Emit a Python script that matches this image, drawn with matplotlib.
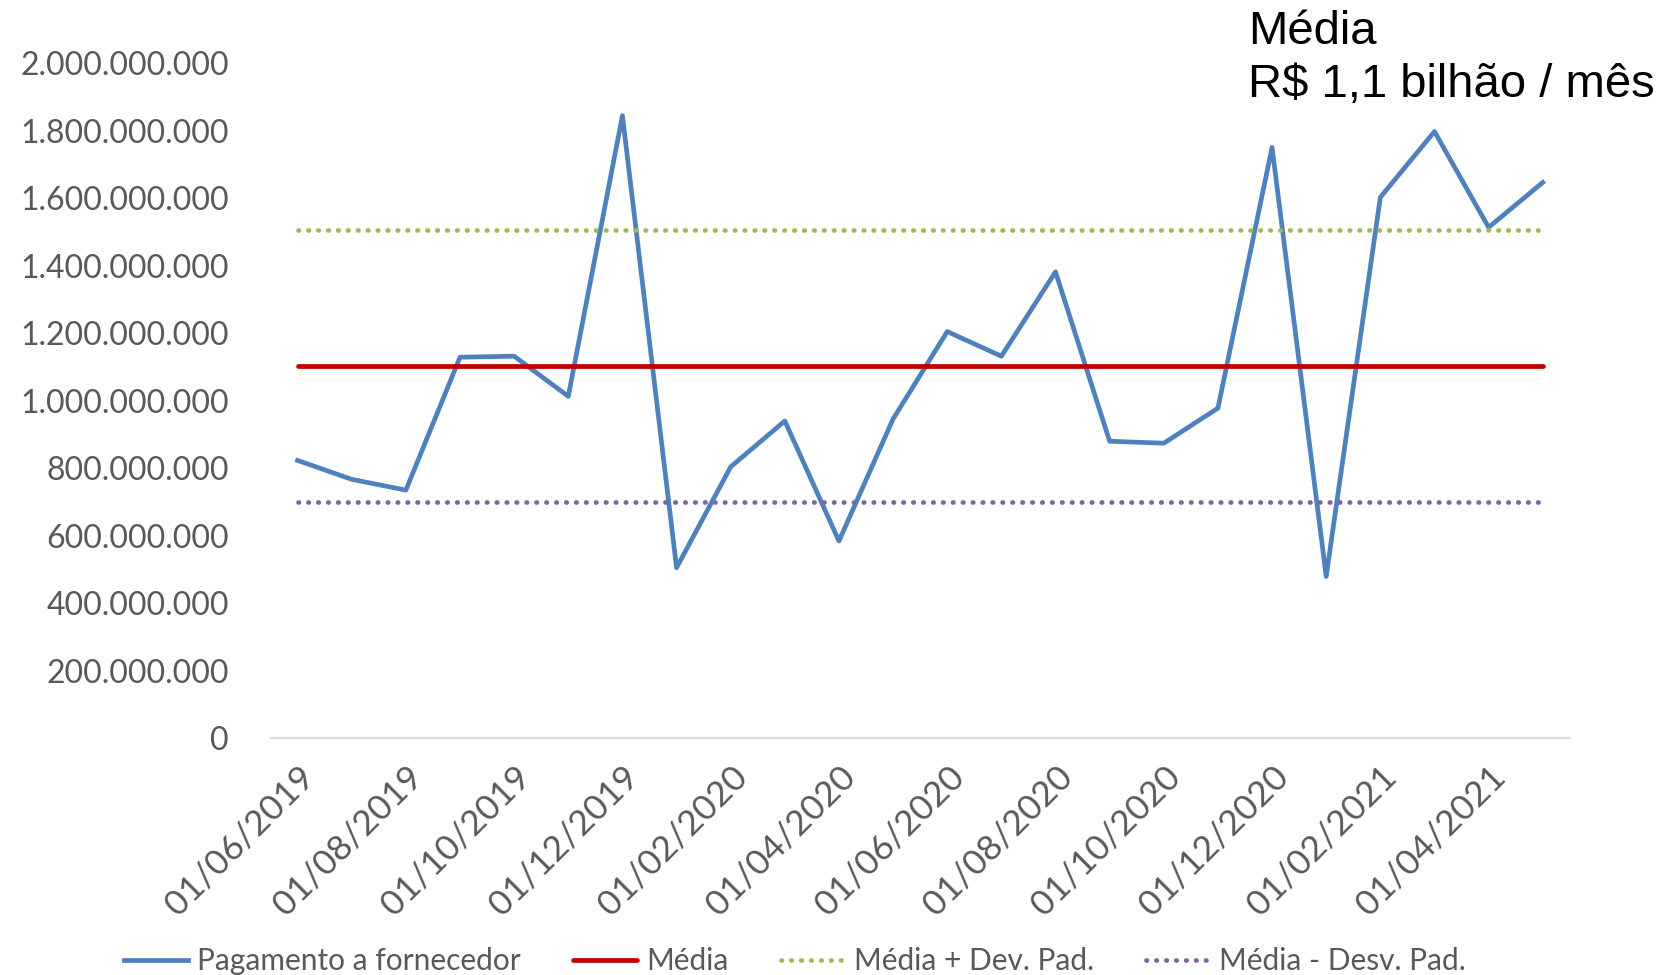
import numpy as np
import matplotlib.pyplot as plt

plt.rcParams['font.family'] = ['Lato', 'DejaVu Sans']

# meses (mensal, 06/2019 a 05/2021)
meses = ["01/06/2019", "01/07/2019", "01/08/2019", "01/09/2019", "01/10/2019", "01/11/2019",
         "01/12/2019", "01/01/2020", "01/02/2020", "01/03/2020", "01/04/2020", "01/05/2020",
         "01/06/2020", "01/07/2020", "01/08/2020", "01/09/2020", "01/10/2020", "01/11/2020",
         "01/12/2020", "01/01/2021", "01/02/2021", "01/03/2021", "01/04/2021", "01/05/2021"]

# pagamento a fornecedor (R$)
pagamento = [823e6, 767e6, 735e6, 1129e6, 1132e6, 1013e6, 1845e6, 505e6, 804e6, 940e6,
             584e6, 946e6, 1205e6, 1132e6, 1382e6, 880e6, 874e6, 978e6, 1751e6, 479e6,
             1603e6, 1798e6, 1514e6, 1647e6]

media = [1103e6] * len(meses)
media_mais = [1505e6] * len(meses)
media_menos = [700e6] * len(meses)

yticks = [0, 200e6, 400e6, 600e6, 800e6, 1000e6, 1200e6, 1400e6, 1600e6, 1800e6, 2000e6]
ytick_labels = ["0", "200.000.000", "400.000.000", "600.000.000", "800.000.000",
                "1.000.000.000", "1.200.000.000", "1.400.000.000", "1.600.000.000",
                "1.800.000.000", "2.000.000.000"]

fig = plt.figure(figsize=(16.7, 9.75), dpi=100)
ax = fig.add_axes([0.162, 0.243, 0.778, 0.692])

x = np.arange(len(meses))
ax.plot(x, pagamento, color='#4F81BD', lw=3.4, label='Pagamento a fornecedor')
ax.plot(x, media, color='#C00000', lw=3.4, solid_capstyle='round', label='Média')
ax.plot(x, media_mais, color='#9BBB59', lw=3.4, ls=(0, (0.1, 2.0)), dash_capstyle='round',
        label='Média + Dev. Pad.')
ax.plot(x, media_menos, color='#8064A2', lw=3.4, ls=(0, (0.1, 2.0)), dash_capstyle='round',
        label='Média - Desv. Pad.')

ax.set_xlim(-0.5, len(meses) - 0.5)
ax.set_ylim(0, 2000e6)
ax.set_yticks(yticks)
ax.set_yticklabels(ytick_labels)
ax.set_xticks(x[::2])
ax.set_xticklabels(meses[::2], rotation=45, ha='right', rotation_mode='anchor')

for s in ['top', 'right', 'left']:
    ax.spines[s].set_visible(False)
ax.spines['bottom'].set_color('#D9D9D9')
ax.spines['bottom'].set_linewidth(1.5)
ax.tick_params(axis='y', length=0, labelsize=23, colors='#595959', pad=30)
ax.tick_params(axis='x', length=0, labelsize=25.5, colors='#595959', pad=16)

fig.text(0.7475, 0.99, "Média\nR$ 1,1 bilhão / mês", family='Liberation Sans',
         fontsize=34, color='black', va='top', ha='left', linespacing=1.27)

leg = fig.legend(loc='lower center', bbox_to_anchor=(0.476, -0.028), ncol=4, frameon=False,
                 fontsize=21.5, handlelength=2.15, columnspacing=1.75, handletextpad=0.3)
for t in leg.get_texts():
    t.set_color('#595959')

fig.savefig('out.png', dpi=100)
